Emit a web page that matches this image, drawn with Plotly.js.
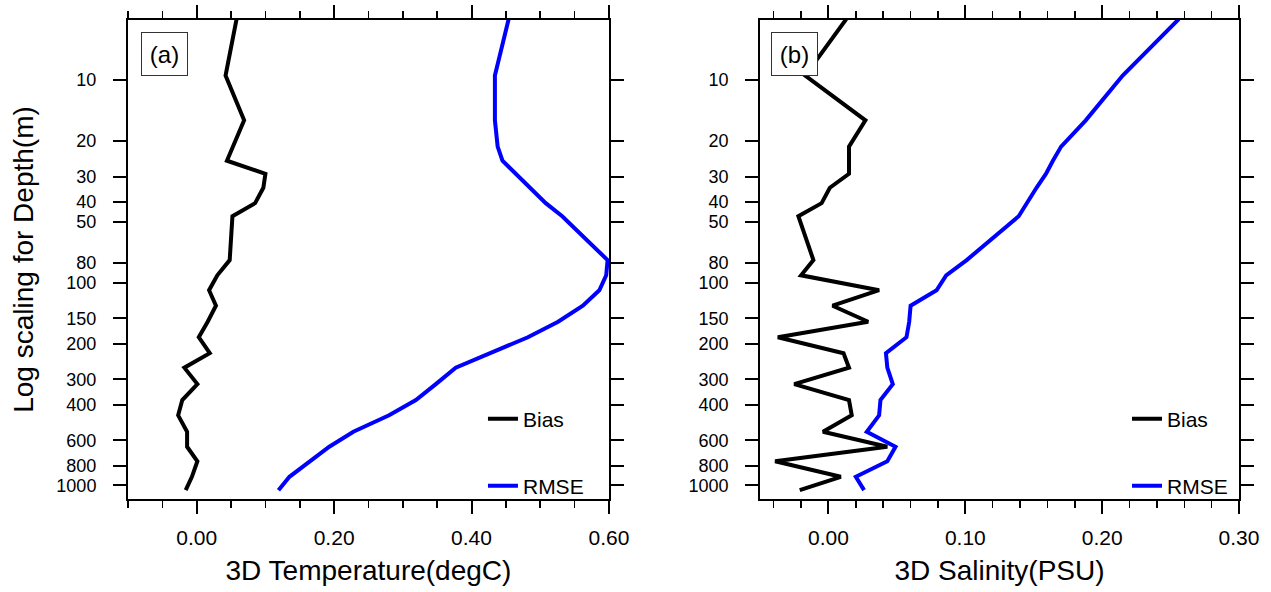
<!DOCTYPE html>
<html>
<head>
<meta charset="utf-8">
<script src="https://cdn.plot.ly/plotly-3.0.1.min.js"></script>
<style>
  html, body { margin: 0; padding: 0; background: #ffffff; }
  #chart { width: 1271px; height: 592px; }
</style>
</head>
<body>
<div id="chart"></div>
<script>
// Model depth levels (m)
const depth = [5, 9.5, 15.8, 21.3, 25, 29, 34, 40.5, 47, 77.4, 92, 109, 130, 156, 186, 223, 263, 317, 380, 452, 545, 646, 762, 909, 1058];

// (a) temperature statistics (degC)
const tempBias = [0.058, 0.042, 0.069, 0.053, 0.044, 0.100, 0.097, 0.085, 0.052, 0.048, 0.030, 0.018, 0.028, 0.016, 0.003, 0.019, -0.018, 0.001, -0.021, -0.027, -0.014, -0.014, 0.001, -0.007, -0.016];
const tempRmse = [0.454, 0.434, 0.434, 0.438, 0.445, 0.465, 0.486, 0.508, 0.532, 0.598, 0.596, 0.586, 0.562, 0.526, 0.482, 0.427, 0.377, 0.348, 0.319, 0.280, 0.228, 0.193, 0.164, 0.135, 0.119];

// (b) salinity statistics (PSU)
const saltBias = [0.013, -0.017, 0.027, 0.015, 0.015, 0.015, 0.001, -0.005, -0.022, -0.011, -0.020, 0.037, 0.003, 0.029, -0.037, 0.011, 0.015, -0.025, 0.015, 0.017, -0.004, 0.043, -0.039, 0.009, -0.021];
const saltRmse = [0.256, 0.215, 0.188, 0.170, 0.164, 0.159, 0.152, 0.145, 0.139, 0.101, 0.086, 0.079, 0.060, 0.059, 0.057, 0.042, 0.043, 0.047, 0.038, 0.037, 0.028, 0.049, 0.043, 0.020, 0.026];

// Axis ticks
const depthTicks = [10, 20, 30, 40, 50, 80, 100, 150, 200, 300, 400, 600, 800, 1000];
const depthTickText = ['10', '20', '30', '40', '50', '80', '100', '150', '200', '300', '400', '600', '800', '1000'];
const tempTicks = [0, 0.2, 0.4, 0.6];
const tempTickText = ['0.00', '0.20', '0.40', '0.60'];
const saltTicks = [0, 0.1, 0.2, 0.3];
const saltTickText = ['0.00', '0.10', '0.20', '0.30'];

const seriesNames = ['Bias', 'RMSE'];
const seriesColors = ['#000000', '#0000ff'];
const panelLabels = ['(a)', '(b)'];
const xTitles = ['3D Temperature(degC)', '3D Salinity(PSU)'];
const yTitle = 'Log scaling for Depth(m)';

const FONT = '"Liberation Sans", Arial, Helvetica, sans-serif';

function profile(x, name, color, xa, ya, legendId) {
  return {
    type: 'scatter', mode: 'lines',
    x: x, y: depth, name: name,
    xaxis: xa, yaxis: ya,
    line: { color: color, width: 4 },
    legend: legendId,
    hoverinfo: 'skip'
  };
}

const tickCommon = {
  ticks: 'outside', ticklen: 13, tickwidth: 2, tickcolor: '#000',
  showline: true, linewidth: 2, linecolor: '#000', mirror: 'ticks',
  showgrid: false, zeroline: false
};

function xAxis(domain, range, vals, text, minorStep, title, anchor) {
  return Object.assign({}, tickCommon, {
    domain: domain, range: range, anchor: anchor,
    tickmode: 'array', tickvals: vals, ticktext: text,
    tickfont: { family: FONT, size: 21, color: '#000' },
    ticklabelstandoff: 6,
    minor: { dtick: minorStep, tick0: 0, ticks: 'outside', ticklen: 7, tickwidth: 1.5, tickcolor: '#000', showgrid: false },
    title: { text: title, standoff: 12, font: { family: FONT, size: 28, color: '#000' } }
  });
}

function yAxis(anchor, withTitle) {
  const ax = Object.assign({}, tickCommon, {
    type: 'log', anchor: anchor,
    range: [Math.log10(1170), Math.log10(5.05)],
    domain: [0, 1],
    tickmode: 'array', tickvals: depthTicks, ticktext: depthTickText,
    tickfont: { family: FONT, size: 18, color: '#000' },
    ticklabelstandoff: 13
  });
  if (withTitle) {
    ax.title = { text: yTitle, standoff: 15, font: { family: FONT, size: 28, color: '#000' } };
  }
  return ax;
}

function legendBox(x, y) {
  return {
    x: x, y: y, xref: 'paper', yref: 'paper',
    xanchor: 'left', yanchor: 'middle',
    bgcolor: 'rgba(0,0,0,0)', borderwidth: 0,
    font: { family: FONT, size: 21, color: '#000' },
    itemwidth: 30, tracegroupgap: 0
  };
}

function labelBox(text, xref, yref, x) {
  return {
    text: text, xref: xref, yref: yref, x: x, y: 0.929,
    xanchor: 'center', yanchor: 'middle', showarrow: false,
    width: 45, height: 42, borderpad: 0,
    bordercolor: '#333', borderwidth: 1, bgcolor: '#fff',
    font: { family: FONT, size: 24, color: '#000' }
  };
}

const traces = [
  profile(tempBias, seriesNames[0], seriesColors[0], 'x', 'y', 'legend'),
  profile(tempRmse, seriesNames[1], seriesColors[1], 'x', 'y', 'legend2'),
  profile(saltBias, seriesNames[0], seriesColors[0], 'x2', 'y2', 'legend3'),
  profile(saltRmse, seriesNames[1], seriesColors[1], 'x2', 'y2', 'legend4')
];

const layout = {
  width: 1271, height: 592,
  margin: { l: 128, r: 32, t: 20, b: 93 },
  paper_bgcolor: '#fff', plot_bgcolor: '#fff',
  font: { family: FONT, color: '#000' },
  xaxis: xAxis([0, 0.4329], [-0.1, 0.6], tempTicks, tempTickText, 0.05, xTitles[0], 'y'),
  yaxis: yAxis('x', true),
  xaxis2: xAxis([0.5689, 1.0], [-0.05, 0.30], saltTicks, saltTickText, 0.02, xTitles[1], 'y2'),
  yaxis2: yAxis('x2', false),
  legend: legendBox(0.3195, 0.167),
  legend2: legendBox(0.3195, 0.027),
  legend3: legendBox(0.8992, 0.167),
  legend4: legendBox(0.8992, 0.027),
  annotations: [
    labelBox(panelLabels[0], 'x domain', 'y domain', 0.0755),
    labelBox(panelLabels[1], 'x2 domain', 'y2 domain', 0.0714)
  ],
  showlegend: true
};

Plotly.newPlot('chart', traces, layout, { staticPlot: true, displayModeBar: false });
</script>
</body>
</html>
